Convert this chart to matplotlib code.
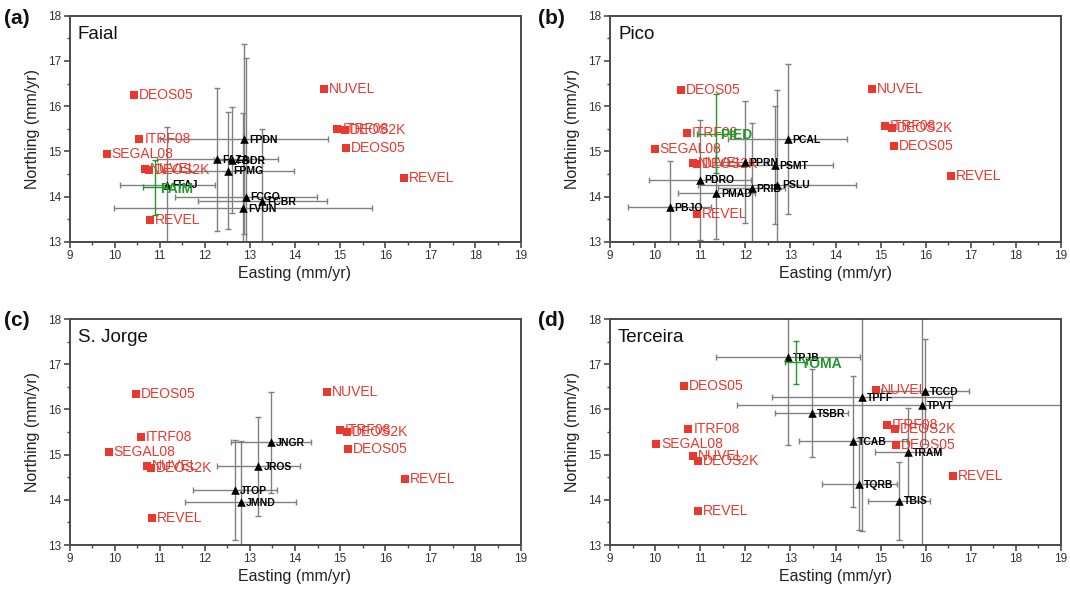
import matplotlib
matplotlib.use("Agg")
import matplotlib.pyplot as plt
from matplotlib.ticker import MultipleLocator

plt.rcParams['font.family'] = ['Liberation Sans', 'DejaVu Sans']

# ---------------- data ----------------
model_names = ['DEOS05', 'NUVEL', 'ITRF08', 'DEOS2K', 'DEOS05', 'REVEL',
               'ITRF08', 'SEGAL08', 'NUVEL', 'DEOS2K', 'REVEL']

# (a) Faial
faial_model_e = [10.44, 14.65, 14.94, 15.10, 15.13, 16.41, 10.55, 9.83, 10.67, 10.77, 10.78]
faial_model_n = [16.25, 16.37, 15.50, 15.47, 15.07, 14.42, 15.27, 14.93, 14.60, 14.59, 13.49]
faial_sites = ['FPDN', 'FAZA', 'FBDR', 'FPMG', 'FFAJ', 'FCGO', 'FCBR', 'FVUN']
faial_e = [12.87, 12.28, 12.60, 12.52, 11.17, 12.91, 13.27, 12.85]
faial_n = [15.27, 14.82, 14.81, 14.57, 14.26, 14.00, 13.89, 13.74]
faial_e_err = [1.87, 1.35, 0.40, 1.45, 1.05, 1.57, 1.43, 2.86]
faial_n_err = [2.10, 1.58, 1.18, 1.30, 1.27, 3.06, 1.60, 2.10]
faial_ref = ['FAIM']
faial_ref_e = [10.90]
faial_ref_n = [14.20]
faial_ref_e_err = [0.27]
faial_ref_n_err = [0.61]

# (b) Pico
pico_model_e = [10.58, 14.81, 15.09, 15.26, 15.30, 16.56, 10.70, 9.99, 10.83, 10.92, 10.92]
pico_model_n = [16.36, 16.38, 15.56, 15.51, 15.12, 14.45, 15.40, 15.05, 14.74, 14.71, 13.61]
pico_sites = ['PCAL', 'PPRN', 'PSMT', 'PDRO', 'PSLU', 'PRIB', 'PMAD', 'PBJO']
pico_e = [12.94, 11.99, 12.65, 10.99, 12.71, 12.14, 11.36, 10.32]
pico_n = [15.27, 14.76, 14.70, 14.37, 14.26, 14.18, 14.07, 13.76]
pico_e_err = [1.32, 0.50, 1.30, 1.13, 1.75, 0.75, 0.86, 0.93]
pico_n_err = [1.66, 1.35, 1.30, 1.33, 2.10, 1.45, 1.02, 1.03]
pico_ref = ['PIED']
pico_ref_e = [11.34]
pico_ref_n = [15.39]
pico_ref_e_err = [0.40]
pico_ref_n_err = [0.87]

# (c) S. Jorge
sjorge_model_e = [10.47, 14.72, 14.99, 15.16, 15.18, 16.44, 10.58, 9.87, 10.71, 10.81, 10.83]
sjorge_model_n = [16.35, 16.38, 15.55, 15.51, 15.13, 14.45, 15.39, 15.05, 14.74, 14.71, 13.59]
sjorge_sites = ['JNGR', 'JROS', 'JTOP', 'JMND']
sjorge_e = [13.47, 13.19, 12.67, 12.80]
sjorge_n = [15.27, 14.74, 14.22, 13.95]
sjorge_e_err = [0.89, 0.91, 0.94, 1.23]
sjorge_n_err = [1.12, 1.09, 1.10, 1.35]

# (d) Terceira
terceira_model_e = [10.64, 14.89, 15.15, 15.32, 15.35, 16.61, 10.74, 10.03, 10.85, 10.95, 10.95]
terceira_model_n = [16.52, 16.42, 15.66, 15.56, 15.22, 14.53, 15.56, 15.24, 14.96, 14.86, 13.75]
terceira_sites = ['TPJB', 'TCCD', 'TPFF', 'TPVT', 'TSBR', 'TCAB', 'TRAM', 'TQRB', 'TBIS']
terceira_e = [12.95, 15.99, 14.59, 15.91, 13.47, 14.38, 15.60, 14.53, 15.40]
terceira_n = [17.16, 16.40, 16.27, 16.10, 15.92, 15.30, 15.05, 14.35, 13.98]
terceira_e_err = [1.60, 0.98, 2.00, 4.10, 0.81, 1.20, 0.73, 0.83, 0.69]
terceira_n_err = [1.95, 1.16, 2.95, 3.30, 0.97, 1.45, 0.98, 1.02, 0.86]
terceira_ref = ['YOMA']
terceira_ref_e = [13.13]
terceira_ref_n = [17.04]
terceira_ref_e_err = [0.24]
terceira_ref_n_err = [0.48]

# ---------------- styling ----------------
RED = '#e8392f'
GREEN = '#1f9a2a'
ERR = '#808080'
SPINE = '#4a4a4a'

fig = plt.figure(figsize=(10.70, 5.96), dpi=100)

W = 451.0 / 1070
H = 226.0 / 596
positions = {
    'a': [69.5 / 1070, 1 - 241.7 / 596, W, H],
    'b': [610.0 / 1070, 1 - 241.7 / 596, W, H],
    'c': [69.5 / 1070, 1 - 545.0 / 596, W, H],
    'd': [610.0 / 1070, 1 - 545.0 / 596, W, H],
}
label_xy = {
    'a': (4 / 1070, 1 - 18 / 596),
    'b': (538 / 1070, 1 - 18 / 596),
    'c': (4 / 1070, 1 - 320 / 596),
    'd': (538 / 1070, 1 - 320 / 596),
}

panels = [
    ('a', 'Faial', faial_model_e, faial_model_n, faial_sites, faial_e, faial_n,
     faial_e_err, faial_n_err, faial_ref, faial_ref_e, faial_ref_n, faial_ref_e_err, faial_ref_n_err),
    ('b', 'Pico', pico_model_e, pico_model_n, pico_sites, pico_e, pico_n,
     pico_e_err, pico_n_err, pico_ref, pico_ref_e, pico_ref_n, pico_ref_e_err, pico_ref_n_err),
    ('c', 'S. Jorge', sjorge_model_e, sjorge_model_n, sjorge_sites, sjorge_e, sjorge_n,
     sjorge_e_err, sjorge_n_err, [], [], [], [], []),
    ('d', 'Terceira', terceira_model_e, terceira_model_n, terceira_sites, terceira_e, terceira_n,
     terceira_e_err, terceira_n_err, terceira_ref, terceira_ref_e, terceira_ref_n,
     terceira_ref_e_err, terceira_ref_n_err),
]

for (key, title, me, mn, sites, se, sn, see, sne, ref, re_, rn, ree, rne) in panels:
    ax = fig.add_axes(positions[key])
    ax.set_xlim(9, 19)
    ax.set_ylim(13, 18)

    # model predictions (red squares)
    ax.scatter(me, mn, marker='s', s=30, color=RED, zorder=3, linewidths=0)
    for name, x, y in zip(model_names, me, mn):
        ax.annotate(name, (x, y), xytext=(3.5, 0), textcoords='offset points',
                    color=RED, fontsize=10, va='center', ha='left', zorder=3)

    # GPS stations (black triangles)
    ax.errorbar(se, sn, xerr=see, yerr=sne, fmt='none', ecolor=ERR,
                elinewidth=1.0, capsize=2.5, capthick=1.0, zorder=2)
    ax.scatter(se, sn, marker='^', s=38, color='black', zorder=4, linewidths=0)
    for name, x, y in zip(sites, se, sn):
        ax.annotate(name, (x, y), xytext=(3.5, -0.5), textcoords='offset points',
                    color='black', fontsize=7.5, fontweight='bold',
                    va='center', ha='left', zorder=4)

    # reference station (green)
    if ref:
        ax.errorbar(re_, rn, xerr=ree, yerr=rne, fmt='none', ecolor=GREEN,
                    elinewidth=1.0, capsize=2.5, capthick=1.0, zorder=5)
        for name, x, y in zip(ref, re_, rn):
            ax.annotate(name, (x, y), xytext=(3.5, -1), textcoords='offset points',
                        color=GREEN, fontsize=10, fontweight='bold',
                        va='center', ha='left', zorder=6)

    ax.text(0.018, 0.955, title, transform=ax.transAxes, fontsize=13.5,
            va='top', ha='left', color='#111111')

    ax.xaxis.set_major_locator(MultipleLocator(1))
    ax.xaxis.set_minor_locator(MultipleLocator(0.5))
    ax.yaxis.set_major_locator(MultipleLocator(1))
    ax.yaxis.set_minor_locator(MultipleLocator(0.5))
    ax.tick_params(which='major', direction='out', length=4, width=1.2,
                   color=SPINE, labelsize=8.5, labelcolor='#333333', pad=2)
    ax.tick_params(which='minor', direction='out', length=2, width=1.0, color=SPINE)
    for sp in ax.spines.values():
        sp.set_color(SPINE)
        sp.set_linewidth(1.4)

    ax.set_xlabel('Easting (mm/yr)', fontsize=11.5, color='#222222', labelpad=3)
    ax.set_ylabel('Northing (mm/yr)', fontsize=11.5, color='#222222', labelpad=6)

    lx, ly = label_xy[key]
    fig.text(lx, ly, '(%s)' % key, fontsize=15, fontweight='bold',
             ha='left', va='center', color='#111111')

fig.savefig('out.png', dpi=100)
